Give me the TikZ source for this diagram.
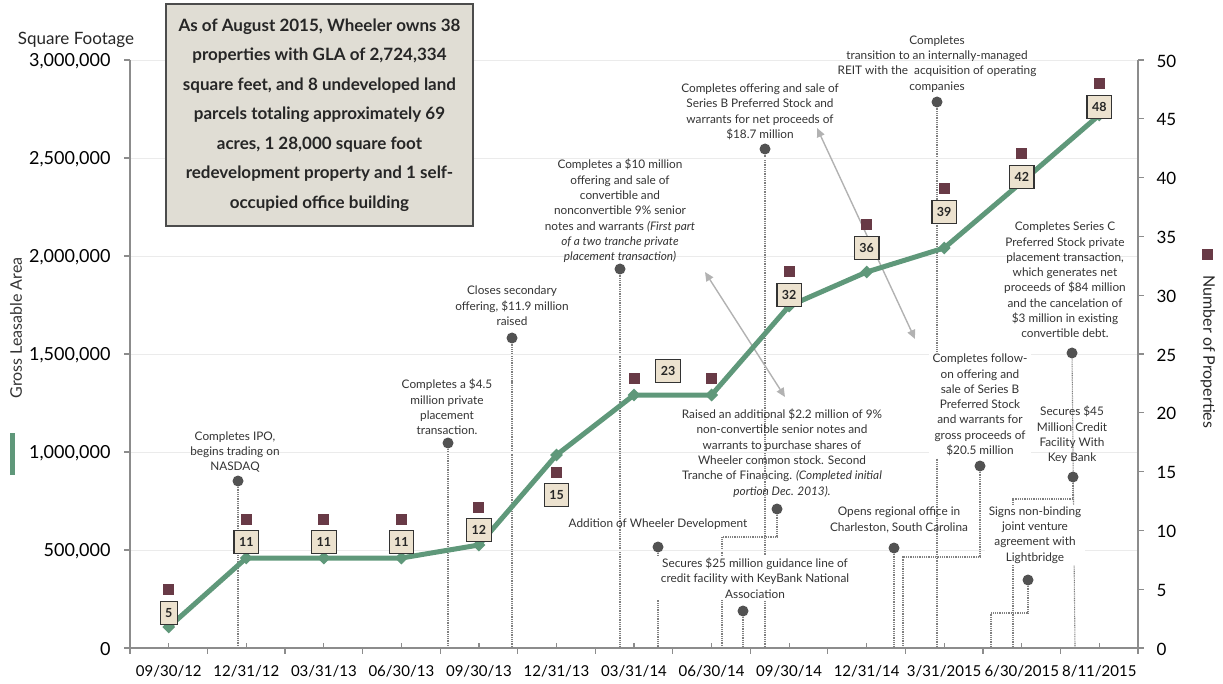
\documentclass[tikz,border=0pt]{standalone}
\usepackage{fontspec}
\setmainfont{Lato}
\usetikzlibrary{arrows.meta,shapes.geometric,positioning,backgrounds}
\definecolor{glagreen}{RGB}{95,152,122}
\definecolor{propred}{RGB}{104,58,70}
\definecolor{numfill}{RGB}{236,226,207}
\definecolor{infofill}{RGB}{224,221,212}
\newcommand{\evfont}{\fontsize{11.8}{15.3}\selectfont}
\newcommand{\axfont}{\fontsize{18}{20}\selectfont}
\newcommand{\datefont}{\fontsize{15}{17}\selectfont}

\begin{document}
\begin{tikzpicture}[
    x=1pt, y=-1pt,
    evtext/.style={align=center, font=\evfont, text=black!80, inner sep=1pt},
    covered/.style={evtext, fill=white, inner xsep=4pt, inner ysep=2pt},
    evdot/.style={circle, fill=black!68, inner sep=0pt, minimum size=11pt},
    lead/.style={black!50, line width=1.1pt, dash pattern=on 1pt off 0.8pt},
    numbox/.style={draw=black!80, line width=1.3pt, fill=numfill, font=\bfseries\fontsize{12.5}{12.5}\selectfont, text=black!85, minimum height=23pt, inner xsep=5pt, inner ysep=0pt},
    propmark/.style={fill=propred, minimum size=11pt, inner sep=0pt},
    glamark/.style={diamond, fill=glagreen, minimum size=13pt, inner sep=0pt},
    pair/.style={{Triangle[length=9pt,width=8pt]}-{Triangle[length=9pt,width=8pt]}, black!30, line width=1.4pt},
    axline/.style={black!45, line width=1.2pt}
]
\useasboundingbox (0,0) rectangle (1223,684);

% grid and axes
\foreach \y in {60,158,...,550} \draw[black!8, line width=0.8pt] (130,\y) -- (1138,\y);
\draw[axline] (130,60) -- (130,648) -- (1138,648) -- (1138,60);
\foreach \y in {60,158,...,648} \draw[axline] (124,\y) -- (130,\y);
\foreach \i in {0,...,10} \draw[axline] (1138,{648-58.8*\i}) -- (1144,{648-58.8*\i});
\foreach \i in {0,...,13} \draw[axline] ({130+77.54*\i},648) -- ++(0,6);
\foreach \i in {0,...,12} \draw[axline] ({168.8+77.54*\i},648) -- ++(0,-5);

\node[anchor=east, font=\axfont] (l30) at (114,61) {3,000,000};
\node[anchor=east, font=\axfont] (l25) at (114,159) {2,500,000};
\node[anchor=east, font=\axfont] (l20) at (114,257) {2,000,000};
\node[anchor=east, font=\axfont] (l15) at (114,355) {1,500,000};
\node[anchor=east, font=\axfont] (l10) at (114,453) {1,000,000};
\node[anchor=east, font=\axfont] (l05) at (114,551) {500,000};
\node[anchor=east, font=\axfont] (l00) at (114,649) {0};
\foreach \v [count=\i from 0] in {0,5,10,15,20,25,30,35,40,45,50}
  \node[anchor=west, font=\fontsize{17}{19}\selectfont] at (1153,{649-58.8*\i}) {\v};
\foreach \d [count=\i from 0] in {09/30/12,12/31/12,03/31/13,06/30/13,09/30/13,12/31/13,03/31/14,06/30/14,09/30/14,12/31/14,3/31/2015,6/30/2015,8/11/2015}
  \node[font=\datefont] at ({168.8+77.54*\i},671) {\d};

\node[font=\fontsize{17}{19}\selectfont, text=black!85] (sqft) at (76,40) {Square Footage};
\node[rotate=90, font=\fontsize{16}{18}\selectfont, text=black!80] (glatitle) at (16,328) {Gross Leasable Area};
\draw[glagreen, line width=5pt] (12,433) -- (12,475);
\node[propmark] (propkey) at (1207,255) {};
\node[rotate=-90, font=\fontsize{16}{18}\selectfont, text=black!85] (proptitle) at (1208,352) {Number of Properties};

\node[draw=black!70, line width=1.5pt, fill=infofill, minimum width=307pt, minimum height=222pt, align=center, font=\bfseries\fontsize{17}{29.5}\selectfont, text=black!85] (info) at (319.5,115)
  {As of August 2015, Wheeler owns 38\\properties with GLA of 2,724,334\\square feet, and 8 undeveloped land\\parcels totaling approximately 69\\acres, 1 28,000 square foot\\redevelopment property and 1 self-\\occupied office building};

% event dots
\node[evdot] (ipodot) at (238,481) {};
\node[evdot] (ppdot) at (448,443) {};
\node[evdot] (secdot) at (512,338) {};
\node[evdot] (tendot) at (620,269) {};
\node[evdot] (serbdot) at (765,149) {};
\node[evdot] (reitdot) at (937,102) {};
\node[evdot] (raisedot) at (777,509) {};
\node[evdot] (wdevdot) at (658,547) {};
\node[evdot] (kbdot) at (743,611) {};
\node[evdot] (opensdot) at (894,548) {};
\node[evdot] (followdot) at (980,466) {};
\node[evdot] (sercdot) at (1072,353) {};
\node[evdot] (creditdot) at (1073,477) {};
\node[evdot] (signsdot) at (1028,580) {};

\coordinate (ipoax) at (238,648);
\coordinate (ppax) at (448,648);
\coordinate (secax) at (512,648);
\coordinate (tenax) at (620,648);
\coordinate (serbax) at (765,648);
\coordinate (reitax) at (937,648);
\coordinate (raisebend) at (722,537);
\coordinate (raiseax) at (722,648);
\coordinate (wdevax) at (658,648);
\coordinate (kbax) at (743,648);
\coordinate (opensax) at (894,648);
\coordinate (followbend) at (903,557);
\coordinate (followax) at (903,648);
\coordinate (sercax) at (1075,648);
\coordinate (creditbend) at (1013,499);
\coordinate (creditax) at (1013,648);
\coordinate (signsbend) at (991,613);
\coordinate (signsax) at (991,648);

\begin{scope}[on background layer]
\draw[lead] (ipodot) -- (ipoax);
\draw[lead] (ppdot) -- (ppax);
\draw[lead] (secdot) -- (secax);
\draw[lead] (tendot) -- (tenax);
\draw[lead] (serbdot) -- (serbax);
\draw[lead] (reitdot) -- (reitax);
\draw[lead] (raisedot) |- (raisebend) -- (raiseax);
\draw[lead] (wdevdot) -- (wdevax);
\draw[lead] (kbdot) -- (kbax);
\draw[lead] (opensdot) -- (opensax);
\draw[lead] (followdot) |- (followbend) -- (followax);
\draw[lead] (sercdot) -- (sercax);
\draw[lead] (creditdot) |- (creditbend) -- (creditax);
\draw[lead] (signsdot) |- (signsbend) -- (signsax);
\end{scope}

% event texts
\node[evtext] (ipo) at (235,452) {Completes IPO,\\begins trading on\\NASDAQ};
\node[evtext] (pp) at (447,407) {Completes a \$4.5\\million private\\placement\\transaction.};
\node[evtext] (secondary) at (512,306) {Closes secondary\\offering, \$11.9 million\\raised};
\node[evtext] (tenm) at (620,211) {Completes a \$10 million\\offering and sale of\\convertible and\\nonconvertible 9\% senior\\notes and warrants \textit{(First part}\\\textit{of a two tranche private}\\\textit{placement transaction)}};
\node[evtext] (serb) at (760,112) {Completes offering and sale of\\Series B Preferred Stock and\\warrants for net proceeds of\\\$18.7 million};
\node[evtext] (reit) at (937,64) {Completes\\transition to an internally-managed\\REIT with the\ \ acquisition of operating\\companies};
\node[evtext] (raised) at (782,453) {Raised an additional \$2.2 million of 9\%\\non-convertible senior notes and\\warrants to purchase shares of\\Wheeler common stock. Second\\Tranche of Financing. \textit{(Completed initial}\\\textit{portion Dec. 2013).}};
\node[evtext] (wdev) at (658,524) {Addition of Wheeler Development};
\node[covered] (keybank) at (755,578) {Secures \$25 million guidance line of\\credit facility with KeyBank National\\Association};
\node[evtext] (opens) at (899,520) {Opens regional office in\\Charleston, South Carolina};
\node[covered] (followon) at (980,405) {Completes follow-\\on offering and\\sale of Series B\\Preferred Stock\\and warrants for\\gross proceeds of\\\$20.5 million};
\node[evtext] (serc) at (1065,280) {Completes Series C\\Preferred Stock private\\placement transaction,\\which generates net\\proceeds of \$84 million\\and the cancelation of\\\$3 million in existing\\convertible debt.};
\node[evtext] (credit) at (1072,435) {Secures \$45\\Million Credit\\Facility With\\Key Bank};
\node[covered] (signs) at (1035,535) {Signs non-binding\\joint venture\\agreement with\\Lightbridge};

% tranche links
\coordinate (tranchea) at (705,272);
\coordinate (trancheb) at (785,397);
\draw[pair] (tranchea) -- (trancheb);
\coordinate (seriesba) at (817,128);
\coordinate (seriesbb) at (915,339);
\draw[pair] (seriesba) -- (seriesbb);

% gross leasable area
\node[glamark] (g0) at (168.8,627) {};
\node[glamark] (g1) at (246.3,558) {};
\node[glamark] (g2) at (323.9,558) {};
\node[glamark] (g3) at (401.4,558) {};
\node[glamark] (g4) at (478.9,545) {};
\node[glamark] (g5) at (556.5,455) {};
\node[glamark] (g6) at (634.0,395) {};
\node[glamark] (g7) at (711.6,395) {};
\node[glamark] (g8) at (789.1,306) {};
\node[glamark] (g9) at (866.7,272) {};
\node[glamark] (g10) at (944.2,248) {};
\node[glamark] (g11) at (1021.8,182) {};
\node[glamark] (g12) at (1099.3,115) {};
\draw[glagreen, line width=5pt, line join=round] (g0.center) -- (g1.center) -- (g2.center) -- (g3.center) -- (g4.center) -- (g5.center) -- (g6.center) -- (g7.center) -- (g8.center) -- (g9.center) -- (g10.center) -- (g11.center) -- (g12.center);

% number of properties
\node[propmark] (p0) at (168.8,589) {};
\node[propmark] (p1) at (246.3,519) {};
\node[propmark] (p2) at (323.9,519) {};
\node[propmark] (p3) at (401.4,519) {};
\node[propmark] (p4) at (478.9,507) {};
\node[propmark] (p5) at (556.5,472) {};
\node[propmark] (p6) at (634.0,378) {};
\node[propmark] (p7) at (711.6,378) {};
\node[propmark] (p8) at (789.1,272) {};
\node[propmark] (p9) at (866.7,225) {};
\node[propmark] (p10) at (944.2,189) {};
\node[propmark] (p11) at (1021.8,154) {};
\node[propmark] (p12) at (1099.3,84) {};

\node[numbox] (n0) at (168.8,613) {5};
\node[numbox] (n1) at (246.3,542) {11};
\node[numbox] (n2) at (323.9,542) {11};
\node[numbox] (n3) at (401.4,542) {11};
\node[numbox] (n4) at (478.9,530) {12};
\node[numbox] (n5) at (556.5,495) {15};
\node[numbox] (n6) at (668,371) {23};
\node[numbox] (n8) at (789.1,295) {32};
\node[numbox] (n9) at (866.7,248) {36};
\node[numbox] (n10) at (944.2,212) {39};
\node[numbox] (n11) at (1021.8,177) {42};
\node[numbox] (n12) at (1099.3,107) {48};
\end{tikzpicture}
\end{document}
